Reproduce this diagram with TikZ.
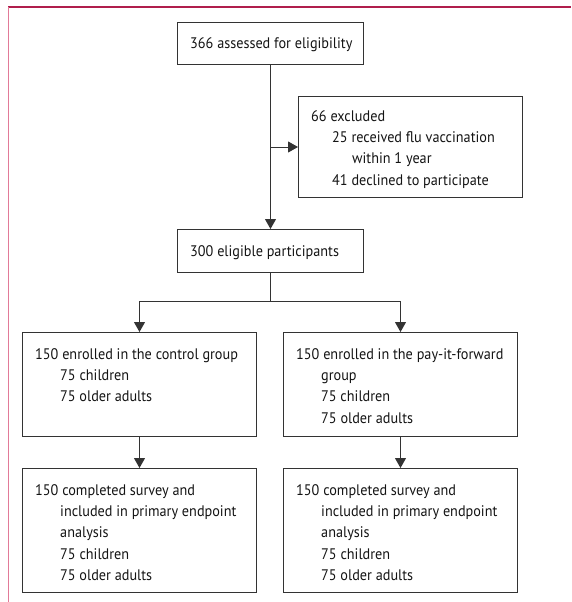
\documentclass[tikz,border=0pt]{standalone}
\usepackage{fontspec}
\setmainfont[FakeStretch=0.93]{PT Sans}
\usetikzlibrary{arrows.meta}
\definecolor{boxline}{HTML}{333333}
\definecolor{topline}{HTML}{B01E4C}
\definecolor{sideline}{HTML}{E27A98}
\newcommand{\boxlines}[1]{\parbox[t]{215pt}{\raggedright\fontsize{15.3}{21.4}\selectfont #1}}
\tikzset{
  flowbox/.style={draw=boxline, line width=1pt, inner sep=0pt, anchor=north west},
  txt/.style={anchor=base west, inner sep=0pt, font=\fontsize{15.3}{21.4}\selectfont, text=black!92},
  conn/.style={draw=boxline, line width=1pt},
  arr/.style={conn, -{Triangle[length=10pt,width=11pt]}}
}
\begin{document}
\begin{tikzpicture}[x=1pt,y=-1pt]
\useasboundingbox (0,0) rectangle (571,602);
% frame lines
\draw[topline, line width=1.6pt] (8,7) -- (571,7);
\draw[sideline, line width=1.8pt] (8.5,7) -- (8.5,602);
% boxes
\node[flowbox, minimum width=186pt, minimum height=42pt] (assess) at (177,22) {};
\node[flowbox, minimum width=224pt, minimum height=101pt] (excl) at (298,96) {};
\node[flowbox, minimum width=186pt, minimum height=43pt] (elig) at (177,229) {};
\node[flowbox, minimum width=234pt, minimum height=104pt] (ctrl) at (22,332) {};
\node[flowbox, minimum width=234pt, minimum height=104pt] (pif) at (283,332) {};
\node[flowbox, minimum width=234pt, minimum height=124pt] (ctrlc) at (22,468) {};
\node[flowbox, minimum width=234pt, minimum height=124pt] (pifc) at (283,468) {};
% texts
\node[txt] (tassess) at (190,48.5) {366 assessed for eligibility};
\node[txt] (texcl) at (311,121) {\boxlines{66 excluded\\\hspace*{21pt}25 received flu vaccination\\\hspace*{41pt}within 1 year\\\hspace*{21pt}41 declined to participate}};
\node[txt] (telig) at (190,256) {300 eligible participants};
\node[txt] (tctrl) at (35,359) {\boxlines{150 enrolled in the control group\\\hspace*{25pt}75 children\\\hspace*{25pt}75 older adults}};
\node[txt] (tpif) at (296,359) {\boxlines{150 enrolled in the pay-it-forward\\\hspace*{25pt}group\\\hspace*{25pt}75 children\\\hspace*{25pt}75 older adults}};
\node[txt] (tctrlc) at (35,495) {\boxlines{150 completed survey and\\\hspace*{25pt}included in primary endpoint\\\hspace*{25pt}analysis\\\hspace*{25pt}75 children\\\hspace*{25pt}75 older adults}};
\node[txt] (tpifc) at (296,495) {\boxlines{150 completed survey and\\\hspace*{25pt}included in primary endpoint\\\hspace*{25pt}analysis\\\hspace*{25pt}75 children\\\hspace*{25pt}75 older adults}};
% connectors
\coordinate (split) at (assess.south |- excl.west);
\draw[arr] (assess.south) -- (elig.north);
\draw[arr] (split) -- (excl.west);
\coordinate (forkc) at (elig.south |- 0,301);
\draw[conn] (elig.south) -- (forkc);
\draw[arr] (forkc) -| (ctrl.north);
\draw[arr] (forkc) -| (pif.north);
\draw[arr] (ctrl.south) -- (ctrlc.north);
\draw[arr] (pif.south) -- (pifc.north);
\end{tikzpicture}
\end{document}
